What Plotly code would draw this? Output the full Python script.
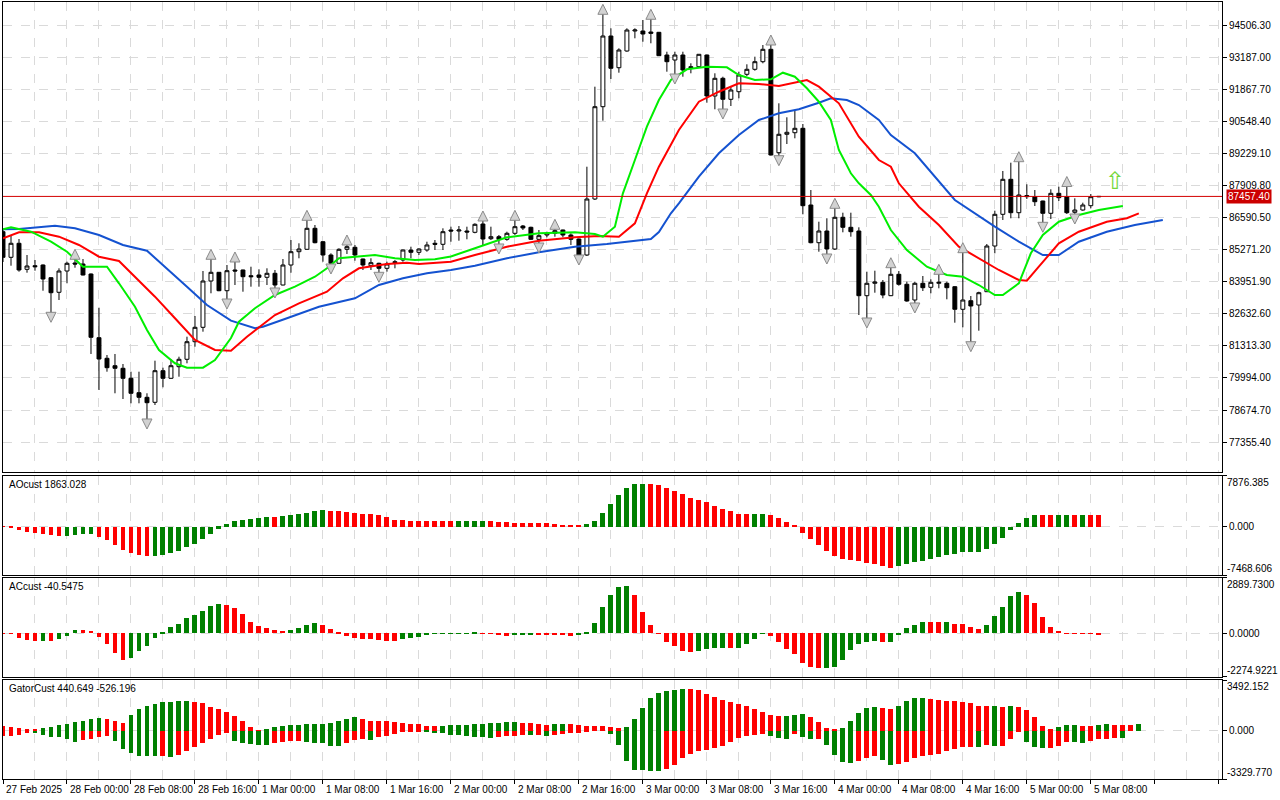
import plotly.graph_objects as go
from plotly.subplots import make_subplots

# hourly bars, bar 0 = 27 Feb 2025 16:00
opens = [86007, 84954, 85530, 84460, 84608, 84637, 84115, 83515, 84390, 84719,
         84678, 84267, 81648, 80801, 80496, 80390, 79978, 79386, 79197, 78991,
         80291, 79978, 80455, 80760, 81483, 82075, 83979, 84337, 83580, 84432,
         84432, 84197, 84226, 84131, 84296, 83815, 84637, 85184, 85283, 86146,
         85595, 85048, 84707, 85283, 85365, 84884, 84608, 84707, 84501, 84773,
         84843, 85254, 85159, 85254, 85530, 85488, 86076, 86035, 86035, 85982,
         86323, 85719, 85801, 85694, 85941, 86241, 86187, 85694, 85871, 85941,
         86076, 85871, 85706, 85048, 87351, 91147, 94054, 92750, 93437, 94259,
         94259, 94218, 94206, 93272, 93067, 93272, 92791, 92791, 93272, 91587,
         92314, 91451, 91763, 92479, 92684, 92997, 93507, 89255, 90012, 90077,
         90258, 87104, 85554, 86035, 85295, 86599, 86187, 86035, 83375, 83885,
         83926, 83375, 84255, 83844, 83198, 83885, 83720, 83885, 83885, 83745,
         82816, 83169, 82992, 83539, 85418, 86722, 88161, 86788, 87446, 87446,
         87269, 86763, 87585, 87446, 86804, 86899, 87076, 87440]
highs = [86118, 85871, 85706, 85048, 84843, 84660, 84130, 84501, 84773, 84913,
         84884, 84290, 82881, 80936, 80978, 80566, 80250, 80250, 79362, 80702,
         80414, 80760, 80867, 81689, 82540, 84390, 84913, 84350, 84637, 84802,
         84445, 84567, 84460, 84501, 84432, 84884, 85665, 85530, 86516, 86282,
         85610, 85118, 85324, 85501, 85460, 84900, 84913, 84732, 84773, 84843,
         85270, 85390, 85324, 85595, 85665, 86146, 86212, 86241, 86212, 86352,
         86488, 86212, 85871, 86007, 86516, 86282, 86212, 86076, 86007, 86146,
         86090, 85941, 85720, 88679, 91969, 94987, 94370, 93548, 94370, 94370,
         94712, 94782, 94220, 93408, 93408, 93408, 92931, 93310, 93290, 92520,
         92380, 91998, 92586, 92890, 93203, 93684, 93725, 91286, 90711, 90982,
         90435, 87721, 86418, 86558, 87010, 86788, 86788, 86187, 84362, 84403,
         84020, 84567, 84390, 83951, 83951, 84185, 84049, 84296, 83951, 83760,
         85184, 83362, 83539, 85501, 86870, 88503, 88844, 88926, 87956, 87721,
         87280, 87750, 87857, 87906, 87380, 87199, 87557, 87470]
lows = [84761, 84608, 84362, 84321, 84403, 83580, 82651, 83198, 83885, 84526,
        84210, 80978, 79497, 80250, 79362, 79127, 78950, 78950, 78264, 78880,
        79608, 79960, 80044, 80595, 81278, 81895, 83474, 83560, 83198, 83815,
        83539, 83745, 83745, 83815, 83650, 83800, 84321, 84913, 85270, 85530,
        84773, 84637, 84700, 85090, 84814, 84432, 84432, 84296, 84362, 84501,
        84773, 84913, 85048, 85184, 85254, 85254, 85595, 85636, 85694, 85941,
        85460, 85665, 85460, 85636, 85871, 86076, 85665, 85501, 85776, 85801,
        85776, 85460, 85007, 85007, 87310, 90571, 92286, 92545, 93408, 93959,
        93819, 93754, 93230, 92586, 92450, 92380, 92520, 92780, 91311, 91040,
        91011, 91175, 91492, 92409, 92627, 92931, 89140, 89091, 89613, 89847,
        86722, 85530, 85184, 85048, 85254, 85982, 85801, 82581, 82417, 83498,
        83268, 83360, 83786, 83128, 83034, 83568, 83474, 83679, 83227, 82265,
        82075, 81442, 81936, 83530, 85118, 86488, 86558, 86558, 87351, 87063,
        86352, 86529, 87269, 86734, 86693, 86870, 86969, 87430]
closes = [84954, 85530, 84432, 84596, 84567, 84062, 83498, 84390, 84707, 84678,
          84226, 81664, 80772, 80414, 80390, 79978, 79362, 79197, 78975, 80291,
          79978, 80496, 80760, 81483, 82075, 83979, 84337, 83580, 84403, 84390,
          84156, 84156, 84131, 84296, 83815, 84637, 85184, 85295, 86146, 85554,
          85048, 84707, 85283, 85390, 85048, 84637, 84732, 84501, 84678, 84732,
          85254, 85159, 85295, 85460, 85488, 86007, 86035, 86076, 85994, 86311,
          85706, 85801, 85694, 85941, 86212, 86159, 85694, 85842, 85941, 86048,
          85871, 85694, 85048, 87351, 91147, 94054, 92726, 93478, 94300, 94300,
          94136, 94165, 93244, 92997, 93272, 92656, 92750, 93301, 91587, 92314,
          91451, 91833, 92450, 92684, 92997, 93507, 89160, 90012, 90094, 90258,
          87076, 85554, 86035, 85295, 86599, 86187, 86007, 83375, 83885, 83938,
          83404, 84255, 83844, 83157, 83885, 83704, 83926, 83926, 83704, 82816,
          83198, 82951, 83498, 85418, 86722, 88161, 86788, 87516, 87487, 87240,
          86763, 87585, 87405, 86788, 86899, 87104, 87446, 87457.4]

# Alligator (already shifted forward): bar index, value
jaw_x = [0, 2, 6.5, 9, 12, 15, 18, 20.5, 23, 25.5, 28.5, 31.5, 32.5, 35.5, 39.5, 44, 47, 50, 53, 56,
         59, 63, 67, 71.5, 75.5, 81, 82, 83.5, 84.5, 87, 89.5, 92, 94.5, 97, 99.5, 102, 103.5, 105.5,
         107, 109.5, 111, 114, 119, 124, 127, 130, 132, 134.5, 138, 141.5, 145]
jaw_y = [86105, 86118, 86253, 86146, 85871, 85460, 85225, 84501, 83745, 82992, 82347, 82034, 82100,
         82446, 82923, 83268, 83815, 84090, 84296, 84432, 84608, 84913, 85159, 85390, 85501, 85706,
         85994, 86763, 87174, 88268, 89230, 89983, 90600, 90875, 91040, 91311, 91492, 91422, 91216,
         90600, 89983, 89230, 87310, 86212, 85595, 85048, 85048, 85595, 86007, 86282, 86488]
teeth_x = [0, 2, 4.5, 7, 9.5, 12, 14.5, 16.5, 19, 21.5, 24, 26.5, 28.5, 30.5, 34, 37, 40.5, 42.5, 44.5,
           48, 50.5, 52, 56, 59, 63, 67, 71.5, 74.5, 77, 79, 80.5, 82, 83.5, 84.5, 87, 89.5, 92, 94.5,
           97, 100.5, 102, 104.5, 107, 109.5, 111, 112, 114.5, 117, 119.5, 122, 124.5, 127, 128,
           129.5, 132, 134.5, 138, 140.5, 142]
teeth_y = [85735, 85982, 85982, 85801, 85460, 84979, 84802, 84156, 83334, 82446, 81553, 81142, 81113,
           81689, 82581, 83062, 83539, 84090, 84501, 84678, 84732, 84678, 84773, 85048, 85390, 85636,
           85776, 85830, 85801, 86352, 87585, 88679, 89572, 90189, 91352, 91763, 92109, 92080, 91998,
           92244, 91969, 91286, 89913, 88955, 88679, 87997, 87034, 86282, 85390, 84913, 84432, 84020,
           83992, 84567, 85530, 86007, 86418, 86558, 86763]
lips_x = [0, 1, 3.5, 6, 8, 10, 13, 14.5, 16.5, 18, 19.5, 21.5, 23, 25, 26.5, 28.5, 29.5, 31.5, 34,
          36.5, 39, 40.5, 42, 44.5, 46.5, 49, 51.5, 54, 56, 59, 63, 67, 71.5, 74, 75, 76.5, 77.5, 79,
          80.5, 82, 83.5, 85.5, 88, 90.5, 92, 94, 96, 97.5, 99, 100.5, 102, 103.5, 104.5, 106, 107,
          108.5, 109.5, 111, 113, 115.5, 118, 120, 122, 124, 125, 127, 128.5, 130, 132, 134.5, 137, 140]
lips_y = [86105, 86187, 86007, 85595, 85184, 84567, 84567, 83885, 82923, 81964, 81142, 80595, 80414,
          80414, 80731, 81636, 82306, 82857, 83404, 83745, 84156, 84501, 84913, 84979, 85048, 84913,
          84843, 84872, 84987, 85324, 85776, 85941, 85982, 85912, 85801, 86212, 87585, 88955, 90324,
          91422, 92244, 92684, 92791, 92767, 92450, 92244, 92273, 92545, 92380, 91903, 91352, 90600,
          89366, 88408, 87997, 87516, 87034, 86076, 85254, 84567, 84226, 84156, 83815, 83404, 83404,
          83885, 85118, 85871, 86418, 86693, 86899, 87063]

up_fractals = [9, 26, 29, 38, 43, 60, 64, 69, 75, 81, 96, 104, 111, 117, 120, 127, 133]
down_fractals = [6, 18, 28, 34, 41, 47, 62, 67, 72, 84, 90, 97, 103, 108, 114, 121, 130, 134]

ao = [-20, -50, -472, -787, -944, -1100, -1260, -1416, -1364, -1260,
      -1100, -1050, -1574, -2046, -2833, -3620, -4092, -4407, -4564, -4540,
      -4355, -4092, -3777, -3148, -2676, -1889, -1100, -262, 367, 944,
      1100, 1207, 1416, 1574, 1560, 1626, 1783, 1940, 2203, 2518,
      2676, 2518, 2500, 2361, 2203, 2046, 1940, 1783, 1469, 1100,
      1090, 944, 940, 930, 920, 910, 900, 930, 940, 950,
      960, 920, 787, 780, 630, 620, 610, 605, 600, 472,
      315, 300, 280, 472, 944, 2203, 3463, 4879, 5981, 6611,
      6620, 6600, 6453, 5981, 5509, 5037, 4407, 4092, 3777, 3305,
      2833, 2518, 2046, 2040, 2046, 2050, 1889, 1416, 787, 157,
      -944, -1889, -2833, -3777, -4564, -5037, -5194, -5247, -5614, -5823,
      -6138, -6296, -6138, -5823, -5509, -5247, -4932, -4722, -4407, -4250,
      -3935, -3900, -3880, -3463, -2676, -1731, -420, 630, 1416, 1889,
      1880, 1870, 1880, 1890, 1880, 1885, 1870, 1863.028]
ac = [-30, -30, -226, -348, -400, -395, -405, -296, -139, 170,
      160, 150, -174, -557, -1009, -1392, -1270, -922, -644, -226,
      70, 313, 487, 800, 940, 1166, 1427, 1531, 1479, 1340,
      1009, 592, 383, 278, 174, 122, 174, 278, 418, 540,
      435, 226, 70, -122, -244, -278, -285, -330, -383, -390,
      -313, -226, -174, -60, -20, -10, 5, 12, 18, 24,
      15, -10, -70, -122, -104, -70, -50, -55, -60, -70,
      -104, -122, -104, 70, 522, 1375, 2001, 2419, 2471, 2001,
      1114, 435, 10, -435, -644, -905, -957, -900, -820, -750,
      -740, -750, -740, -557, -278, -30, -140, -435, -818, -1079,
      -1531, -1757, -1810, -1800, -1740, -1392, -870, -557, -452, -400,
      -452, -445, -52, 278, 435, 592, 585, 580, 590, 487,
      480, 330, 209, 435, 905, 1375, 1949, 2158, 2001, 1583,
      853, 330, 122, 15, 5, -20, -30, -40.5475]
gator_up = [345, 276, 207, 138, 92, 207, 276, 413, 482, 620,
            689, 827, 896, 827, 689, 551, 1103, 1516, 1723, 1860,
            1998, 2000, 2067, 2070, 1998, 1929, 1654, 1516, 1309, 1034,
            689, 276, 30, 138, 276, 345, 413, 415, 482, 485,
            490, 551, 689, 827, 965, 827, 689, 680, 670, 620,
            551, 482, 475, 345, 340, 345, 413, 415, 418, 482,
            485, 551, 555, 620, 625, 551, 545, 482, 413, 482,
            485, 480, 413, 345, 340, 335, 276, 207, 276, 827,
            1585, 2274, 2619, 2756, 2825, 2894, 2890, 2825, 2550, 2343,
            2136, 1998, 1860, 1723, 1516, 1309, 1103, 1034, 1040, 1103,
            1171, 965, 620, 207, 69, 207, 689, 1240, 1585, 1654,
            1585, 1516, 1723, 2067, 2274, 2280, 2205, 2136, 2067, 2060,
            1998, 1929, 1723, 1720, 1725, 1654, 1723, 1650, 1447, 965,
            345, 69, 276, 413, 415, 345, 340, 413, 482, 413,
            410, 405, 440.649]
gator_dn = [-345, -340, -276, -138, -150, -276, -413, -420, -551, -758,
            -620, -551, -413, -345, -689, -1240, -1516, -1723, -1769, -1775,
            -1765, -1838, -1654, -1378, -1102, -873, -597, -276, -184, -689,
            -827, -896, -965, -970, -873, -804, -735, -730, -804, -873,
            -880, -1034, -1040, -873, -620, -598, -620, -460, -345, -207,
            -115, -110, -100, -115, -184, -190, -276, -280, -345, -413,
            -420, -482, -413, -345, -340, -276, -280, -270, -345, -276,
            -207, -138, -135, -69, -10, -5, -207, -965, -2067, -2687,
            -2690, -2756, -2760, -2619, -2343, -1860, -1585, -1378, -1309, -1171,
            -1034, -758, -482, -345, -276, -207, -345, -482, -551, -207,
            -413, -600, -580, -965, -1654, -2136, -2205, -2067, -1860, -1723,
            -1998, -2343, -2274, -2136, -1860, -1723, -1654, -1585, -1378, -1240,
            -1103, -1100, -1105, -965, -1034, -1030, -551, -69, -758, -1103,
            -1171, -1165, -1034, -758, -760, -827, -689, -574, -540, -480,
            -526.196]

price_ticks = [77355.40, 78674.70, 79994.00, 81313.30, 82632.60, 83951.90, 85271.20,
               86590.50, 87909.80, 89229.10, 90548.40, 91867.70, 93187.00, 94506.30]
ao_scale = [-7468.606, 0.0, 7876.385]
ac_scale = [-2274.9221, 0.0, 2889.7300]
gator_scale = [-3329.770, 0.0, 3492.152]
time_ticks = [0, 8, 16, 24, 32, 40, 48, 56, 64, 72, 80, 88, 96, 104, 112, 120, 128, 136]
time_labels = ["27 Feb 2025", "28 Feb 00:00", "28 Feb 08:00", "28 Feb 16:00", "1 Mar 00:00",
               "1 Mar 08:00", "1 Mar 16:00", "2 Mar 00:00", "2 Mar 08:00", "2 Mar 16:00",
               "3 Mar 00:00", "3 Mar 08:00", "3 Mar 16:00", "4 Mar 00:00", "4 Mar 08:00",
               "4 Mar 16:00", "5 Mar 00:00", "5 Mar 08:00"]
last_price = 87457.40

GREEN = "#008000"
RED = "#ff0000"
FONT = "Liberation Sans"

bars = list(range(len(opens)))


def rising(vals):
    out = []
    for i, v in enumerate(vals):
        out.append(GREEN if i > 0 and v > vals[i - 1] else RED)
    return out


def rising_abs(vals):
    out = []
    for i, v in enumerate(vals):
        out.append(GREEN if i > 0 and abs(v) > abs(vals[i - 1]) else RED)
    return out


fig = make_subplots(rows=4, cols=1, shared_xaxes=True)

fig.add_trace(go.Candlestick(
    x=bars, open=opens, high=highs, low=lows, close=closes,
    increasing=dict(line=dict(color="black", width=1), fillcolor="white"),
    decreasing=dict(line=dict(color="black", width=1), fillcolor="black"),
    whiskerwidth=0, hoverinfo="skip"), row=1, col=1)

fig.add_trace(go.Scatter(x=jaw_x, y=jaw_y, mode="lines", line=dict(color="#1452d0", width=2)), row=1, col=1)
fig.add_trace(go.Scatter(x=teeth_x, y=teeth_y, mode="lines", line=dict(color="#ff0000", width=2)), row=1, col=1)
fig.add_trace(go.Scatter(x=lips_x, y=lips_y, mode="lines", line=dict(color="#00ee00", width=2)), row=1, col=1)

# fractal markers a few pixels beyond the bar extremes
pad = (95452 - 76125) / 470 * 9
fig.add_trace(go.Scatter(
    x=up_fractals, y=[highs[k] + pad for k in up_fractals], mode="markers",
    marker=dict(symbol="arrow-up", size=10, color="#d2d2d2", line=dict(color="#8a8a8a", width=1))),
    row=1, col=1)
fig.add_trace(go.Scatter(
    x=down_fractals, y=[lows[k] - pad for k in down_fractals], mode="markers",
    marker=dict(symbol="arrow-down", size=10, color="#d2d2d2", line=dict(color="#8a8a8a", width=1))),
    row=1, col=1)

fig.add_trace(go.Bar(x=bars, y=ao, marker=dict(color=rising(ao), line=dict(width=0)), width=0.62), row=2, col=1)
fig.add_trace(go.Bar(x=bars, y=ac, marker=dict(color=rising(ac), line=dict(width=0)), width=0.62), row=3, col=1)
fig.add_trace(go.Bar(x=list(range(len(gator_up))), y=gator_up,
                     marker=dict(color=rising(gator_up), line=dict(width=0)), width=0.62), row=4, col=1)
fig.add_trace(go.Bar(x=list(range(len(gator_dn))), y=gator_dn,
                     marker=dict(color=rising_abs(gator_dn), line=dict(width=0)), width=0.62), row=4, col=1)

# current price line + label
fig.add_shape(type="line", xref="x domain", yref="y", x0=0, x1=1, y0=last_price, y1=last_price,
              line=dict(color="#d40000", width=1))
fig.add_annotation(xref="paper", yref="y", x=1, y=last_price, xanchor="left", xshift=4,
                   text=f"{last_price:.2f}", showarrow=False, bgcolor="#cc0000", borderpad=1,
                   font=dict(color="white", size=10, family=FONT))
fig.add_annotation(xref="x", yref="y", x=139, y=88112, text="⇧", showarrow=False,
                   font=dict(color="#74d63c", size=24, family="DejaVu Sans"))

grid = "#dadada"
xcommon = dict(range=[0, 152.4], tickmode="array", tickvals=list(range(0, 153, 8)),
               showgrid=True, griddash="dash", gridcolor=grid, gridwidth=1,
               minor=dict(tickmode="linear", tick0=0, dtick=4, showgrid=True, griddash="dash",
                          gridcolor=grid),
               showline=True, mirror=True, linecolor="black", linewidth=1,
               showticklabels=False, zeroline=False, fixedrange=True)
for i in range(1, 5):
    fig.update_xaxes(**xcommon, row=i, col=1)
fig.update_xaxes(ticks="outside", ticklen=4, tickcolor="black", row=4, col=1)
fig.update_xaxes(rangeslider=dict(visible=False), row=1, col=1)

ycommon = dict(side="right", showline=True, mirror=True, linecolor="black", linewidth=1,
               ticks="outside", ticklen=4, tickcolor="black", showgrid=True, griddash="dash",
               gridcolor=grid, zeroline=False, fixedrange=True,
               tickfont=dict(size=10, family=FONT, color="black"))
fig.update_yaxes(**ycommon)
fig.update_yaxes(range=[76125, 95452], tickvals=price_ticks,
                 ticktext=[f"{v:.2f}" for v in price_ticks], domain=[0.3951, 1.0], row=1, col=1)

# sub-window scales: tick marks at the edges, labels tucked inside the window
subs = [(2, ao_scale, 3, [0.2625, 0.3900]), (3, ac_scale, 4, [0.1313, 0.2587]),
        (4, gator_scale, 3, [0.0, 0.1274])]
for row, scale, dec, dom in subs:
    fig.update_yaxes(range=[scale[0] - 1e-3, scale[2] + 1e-3], tickvals=scale,
                     ticktext=["", f"{0:.{dec}f}", ""], domain=dom, row=row, col=1)
    ref = "y" + str(row) + " domain"
    fig.add_annotation(xref="paper", yref=ref, x=1, y=1, xanchor="left", yanchor="top",
                       xshift=3, yshift=1, text=f"{scale[2]:.{dec}f}", showarrow=False,
                       font=dict(size=10, family=FONT, color="black"))
    fig.add_annotation(xref="paper", yref=ref, x=1, y=0, xanchor="left", yanchor="bottom",
                       xshift=3, yshift=-1, text=f"{scale[0]:.{dec}f}", showarrow=False,
                       font=dict(size=10, family=FONT, color="black"))

for name, ref in [(f"AOcust {ao[-1]:.3f}", "y2"), (f"ACcust {ac[-1]:.4f}", "y3"),
                  (f"GatorCust {gator_up[-1]:.3f} {gator_dn[-1]:.3f}", "y4")]:
    fig.add_annotation(xref="x domain", yref=ref + " domain", x=0.003, y=0.985, xanchor="left",
                       yanchor="top", text=name, showarrow=False,
                       font=dict(size=10, family=FONT, color="black"))

for k, lab in zip(time_ticks, time_labels):
    fig.add_annotation(xref="x4", yref="paper", x=k, y=-0.0045, xanchor="left", yanchor="top",
                       xshift=1, text=lab, showarrow=False,
                       font=dict(size=10, family=FONT, color="black"))

fig.update_layout(width=1280, height=800, margin=dict(l=3, r=58, t=2, b=21),
                  paper_bgcolor="white", plot_bgcolor="white", showlegend=False,
                  barmode="overlay", bargap=0, font=dict(family=FONT, size=10, color="black"))

fig.write_html("out.html", config={"displayModeBar": False},
               post_script="document.body.style.margin='0';")
